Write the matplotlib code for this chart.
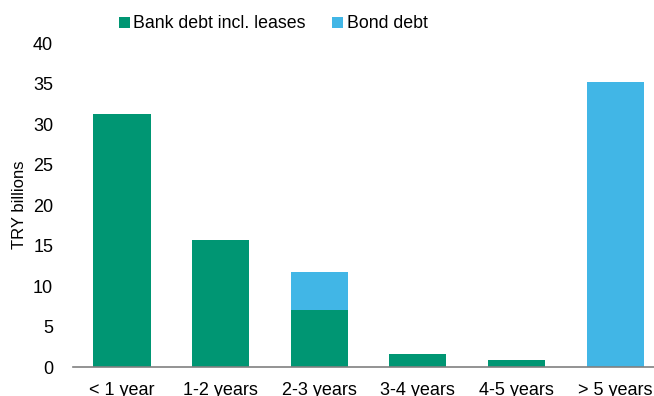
import matplotlib.pyplot as plt
import numpy as np

plt.rcParams['font.family'] = ['Liberation Sans', 'DejaVu Sans']

# Debt maturity profile
categories = ['< 1 year', '1-2 years', '2-3 years', '3-4 years', '4-5 years', '> 5 years']
bank_debt = [31.2, 15.7, 7.1, 1.6, 0.9, 0.0]
bond_debt = [0.0, 0.0, 4.7, 0.0, 0.0, 35.2]

green = '#009673'
blue = '#41B6E6'

fig = plt.figure(figsize=(6.54, 3.96), dpi=100)
ax = fig.add_axes([0.111, 0.073, 0.905, 0.818])

x = np.arange(len(categories))
ax.bar(x, bank_debt, width=0.58, color=green, label='Bank debt incl. leases')
ax.bar(x, bond_debt, width=0.58, bottom=bank_debt, color=blue, label='Bond debt')

ax.set_xlim(-0.5, 5.5)
ax.set_ylim(0, 40)
ax.set_yticks(range(0, 41, 5))
ax.set_xticks(x)
ax.set_xticklabels(categories)
ax.tick_params(axis='both', length=0, labelsize=13)
ax.tick_params(axis='x', pad=11)
ax.tick_params(axis='y', pad=14)
ax.set_ylabel('TRY billions', fontsize=12, labelpad=4)

for s in ['top', 'right', 'left']:
    ax.spines[s].set_visible(False)
ax.spines['bottom'].set_color('#808080')
ax.spines['bottom'].set_linewidth(1.2)

ax.legend(loc='upper center', bbox_to_anchor=(0.339, 1.135), ncol=2, frameon=False,
          fontsize=12.8, handlelength=0.6, handleheight=0.6, handletextpad=0.2,
          columnspacing=1.5)

fig.savefig('out.png', dpi=100)
